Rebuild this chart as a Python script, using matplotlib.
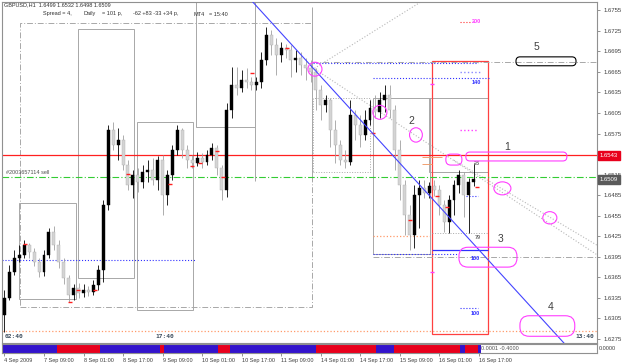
import matplotlib
matplotlib.use("Agg")
import matplotlib.pyplot as plt
import matplotlib.transforms as mtransforms
from matplotlib.patches import Rectangle, Ellipse, FancyBboxPatch
import numpy as np

plt.rcParams['font.family'] = ['Liberation Sans', 'DejaVu Sans']

# ---------------- data (GBPUSD H1, 2-hour steps) ----------------
hours = list(range(0, 192, 2))
opens = [1.6310, 1.6335, 1.6373, 1.6393, 1.6398, 1.6412, 1.6402, 1.6387, 1.6373, 1.6398,
         1.6431, 1.6412, 1.6387, 1.6364, 1.6339, 1.6350, 1.6342, 1.6347, 1.6344, 1.6354,
         1.6376, 1.6471, 1.6580, 1.6558, 1.6566, 1.6529, 1.6500, 1.6514, 1.6504, 1.6519,
         1.6522, 1.6507, 1.6536, 1.6485, 1.6514, 1.6551, 1.6580, 1.6551, 1.6536, 1.6532,
         1.6539, 1.6533, 1.6544, 1.6554, 1.6525, 1.6493, 1.6609, 1.6646, 1.6642, 1.6653,
         1.6650, 1.6646, 1.6650, 1.6682, 1.6719, 1.6704, 1.6690, 1.6700, 1.6697, 1.6682,
         1.6685, 1.6675, 1.6671, 1.6665, 1.6639, 1.6617, 1.6624, 1.6580, 1.6558, 1.6536,
         1.6533, 1.6602, 1.6587, 1.6573, 1.6595, 1.6612, 1.6606, 1.6624, 1.6631, 1.6609,
         1.6551, 1.6500, 1.6456, 1.6427, 1.6485, 1.6496, 1.6488, 1.6498, 1.6493, 1.6471,
         1.6446, 1.6478, 1.6500, 1.6514, 1.6485, 1.6504]
highs = [1.6347, 1.6383, 1.6405, 1.6412, 1.6420, 1.6415, 1.6408, 1.6393, 1.6405, 1.6437,
         1.6440, 1.6420, 1.6393, 1.6368, 1.6355, 1.6357, 1.6355, 1.6352, 1.6361, 1.6383,
         1.6478, 1.6587, 1.6592, 1.6583, 1.6573, 1.6536, 1.6522, 1.6525, 1.6529, 1.6536,
         1.6539, 1.6542, 1.6544, 1.6522, 1.6558, 1.6587, 1.6583, 1.6558, 1.6544, 1.6548,
         1.6547, 1.6551, 1.6561, 1.6558, 1.6529, 1.6620, 1.6672, 1.6672, 1.6668, 1.6671,
         1.6658, 1.6658, 1.6694, 1.6731, 1.6726, 1.6715, 1.6709, 1.6706, 1.6704, 1.6697,
         1.6694, 1.6685, 1.6682, 1.6671, 1.6646, 1.6631, 1.6627, 1.6595, 1.6566, 1.6551,
         1.6624, 1.6609, 1.6602, 1.6609, 1.6624, 1.6631, 1.6636, 1.6646, 1.6646, 1.6617,
         1.6566, 1.6507, 1.6471, 1.6500, 1.6507, 1.6507, 1.6504, 1.6507, 1.6500, 1.6478,
         1.6485, 1.6507, 1.6522, 1.6519, 1.6510, 1.6532]
lows = [1.6285, 1.6332, 1.6368, 1.6387, 1.6393, 1.6393, 1.6382, 1.6366, 1.6367, 1.6393,
        1.6405, 1.6379, 1.6355, 1.6329, 1.6332, 1.6335, 1.6336, 1.6338, 1.6339, 1.6347,
        1.6358, 1.6463, 1.6551, 1.6536, 1.6522, 1.6493, 1.6481, 1.6490, 1.6496, 1.6504,
        1.6500, 1.6493, 1.6456, 1.6471, 1.6507, 1.6544, 1.6539, 1.6525, 1.6525, 1.6528,
        1.6525, 1.6529, 1.6536, 1.6514, 1.6478, 1.6482, 1.6598, 1.6631, 1.6636, 1.6642,
        1.6639, 1.6639, 1.6642, 1.6675, 1.6690, 1.6660, 1.6679, 1.6685, 1.6658, 1.6665,
        1.6660, 1.6653, 1.6650, 1.6609, 1.6595, 1.6606, 1.6555, 1.6532, 1.6529, 1.6525,
        1.6529, 1.6566, 1.6555, 1.6566, 1.6587, 1.6598, 1.6598, 1.6606, 1.6598, 1.6522,
        1.6478, 1.6427, 1.6405, 1.6408, 1.6437, 1.6481, 1.6481, 1.6484, 1.6456, 1.6431,
        1.6430, 1.6456, 1.6488, 1.6453, 1.6430, 1.6498]
closes = [1.6335, 1.6373, 1.6393, 1.6398, 1.6412, 1.6402, 1.6387, 1.6373, 1.6398, 1.6431,
          1.6412, 1.6387, 1.6364, 1.6339, 1.6350, 1.6342, 1.6347, 1.6344, 1.6354, 1.6376,
          1.6471, 1.6580, 1.6558, 1.6566, 1.6529, 1.6500, 1.6514, 1.6504, 1.6519, 1.6522,
          1.6507, 1.6536, 1.6485, 1.6514, 1.6551, 1.6580, 1.6551, 1.6536, 1.6532, 1.6539,
          1.6533, 1.6544, 1.6554, 1.6525, 1.6493, 1.6609, 1.6646, 1.6642, 1.6653, 1.6650,
          1.6646, 1.6650, 1.6682, 1.6719, 1.6704, 1.6690, 1.6700, 1.6697, 1.6682, 1.6685,
          1.6675, 1.6671, 1.6665, 1.6639, 1.6617, 1.6624, 1.6580, 1.6558, 1.6536, 1.6533,
          1.6602, 1.6587, 1.6573, 1.6595, 1.6612, 1.6606, 1.6624, 1.6631, 1.6609, 1.6551,
          1.6500, 1.6456, 1.6427, 1.6485, 1.6496, 1.6488, 1.6498, 1.6493, 1.6471, 1.6446,
          1.6478, 1.6500, 1.6514, 1.6485, 1.6504, 1.6509]

# red indicator dashes on some bars
mark_h = [8.3, 26.5, 29.8, 36.6, 50.0, 67.0, 75.9, 79.1, 86.0, 88.5, 100.2, 114.4,
          149.2, 164.2, 175.1, 179.1, 191.3]
mark_p = [1.6414, 1.6329, 1.6347, 1.6347, 1.6516, 1.6501, 1.6528, 1.6532, 1.6550, 1.6512,
          1.6663, 1.6700, 1.6576, 1.6449, 1.6484, 1.6468, 1.6497]

time_ticks = [0, 16, 32, 48, 64, 80, 96, 112, 128, 144, 160, 176, 192]
time_labels = ["4 Sep 2009", "7 Sep 09:00", "8 Sep 01:00", "8 Sep 17:00", "9 Sep 09:00",
               "10 Sep 01:00", "10 Sep 17:00", "11 Sep 09:00", "14 Sep 01:00",
               "14 Sep 17:00", "15 Sep 09:00", "16 Sep 01:00", "16 Sep 17:00"]
price_ticks = [1.6755, 1.6725, 1.6695, 1.6665, 1.6635, 1.6605, 1.6575, 1.6545, 1.6515,
               1.6485, 1.6455, 1.6425, 1.6395, 1.6365, 1.6335, 1.6305, 1.6275]

resistance = 1.6543
order_price = 1.6512
last_price = 1.6509

# trend line anchors (hour, price)
trend_h = [99.8, 226.5]
trend_p = [1.6770, 1.62692]

# indicator strip segments (start hour, end hour, colour)
strip = [(-1, 21.3, "#3314cc"), (21.3, 38.7, "#e8001c"), (38.7, 63, "#3314cc"),
         (63, 64.6, "#e8001c"), (64.6, 86.4, "#3314cc"), (86.4, 91.3, "#e8001c"),
         (91.3, 126.1, "#3314cc"), (126.1, 150.4, "#e8001c"), (150.4, 157.7, "#3314cc"),
         (157.7, 184.4, "#e8001c"), (184.4, 186.4, "#3314cc"), (186.4, 191.7, "#e8001c"),
         (191.7, 192.9, "#3314cc")]

# ---------------- figure ----------------
W, H = 625, 363
fig = plt.figure(figsize=(W / 100, H / 100), dpi=100)
fig.patch.set_facecolor("white")


def frame(x0, y0, x1, y1):
    return [x0 / W, 1 - y1 / H, (x1 - x0) / W, (y1 - y0) / H]


ax = fig.add_axes(frame(2, 2, 597, 343))
sub = fig.add_axes(frame(2, 344, 597, 353), sharex=ax)
ax.set_xlim(-1, 239.9)
ax.set_ylim(1.62692, 1.67671)
ASP = 0.000146 * 2.47  # price per hour for round shapes

for a in (ax, sub):
    for s in a.spines.values():
        s.set_color("#909090")
        s.set_linewidth(0.8)

GRAY = "#a8a8a8"
PINK = "#ff3dff"
BLUE = "#3030ff"
DASHDOT = (0, (6, 2, 1, 2))
SMALL = 4.0

# dash-dot big frame
ax.add_patch(Rectangle((6.3, 1.6322), 118.2, 1.6736 - 1.6322, fill=False, ec=GRAY,
                       lw=0.7, ls=DASHDOT))
# grey boxes
boxes = [(5.9, 28.9, 1.6334, 1.6474, "-"), (29.8, 52.4, 1.6364, 1.6728, "-"),
         (53.6, 76.3, 1.6317, 1.6592, "-"), (77.5, 101.4, 1.6585, 1.6767, "-"),
         (124.9, 148.0, 1.6519, 1.6627, ":"), (149.2, 172.3, 1.6399, 1.6627, "-"),
         (173.1, 195.7, 1.6405, 1.6519, "-"), (171.9, 195.7, 1.6519, 1.6627, "-")]
for x0, x1, y0, y1, st in boxes:
    ax.add_patch(Rectangle((x0, y0), x1 - x0, y1 - y0, fill=False, ec=GRAY, lw=0.7, ls=st))
ax.vlines([101.4, 124.5], [1.6506, 1.6506], [1.6760, 1.6760], color=GRAY, lw=0.7)

# horizontal dash-dot grey lines
ax.hlines(1.6679, 124.5, 239.9, color=GRAY, lw=0.7, ls=DASHDOT)
ax.hlines(1.6395, 149.2, 239.9, color=GRAY, lw=0.7, ls=DASHDOT)
ax.hlines(1.6430, 173.1, 195.7, color=GRAY, lw=0.7, ls=":")

# diagonal dotted lines
ax.plot([124.5, 169.8], [1.6668, 1.6770], color="#b8b8b8", lw=0.8, ls=":")
ax.plot([125.7, 239.9], [1.6669, 1.6398], color="#b8b8b8", lw=0.8, ls=":")
ax.plot([182.0, 239.9], [1.6536, 1.6412], color="#b8b8b8", lw=0.8, ls=":")

# orange dotted
ax.hlines(1.6287, -1, 239.9, color="#ff9a6a", lw=0.9, ls=":")
ax.hlines(1.6425, 149.2, 172.3, color="#ff9a6a", lw=0.9, ls=":")
ax.hlines([1.6541, 1.6530], [169.0, 169.0], [177.1, 173.1], color="#f0a070", lw=0.7)

# blue dotted levels
ax.hlines(1.6678, 124.9, 191.7, color=BLUE, lw=0.8, ls=":")
ax.hlines(1.6656, 149.2, 196.2, color=BLUE, lw=0.8, ls=":")
ax.hlines(1.6390, -1, 77.5, color=BLUE, lw=0.8, ls=":")
ax.hlines(1.6399, 149.2, 183.2, color=BLUE, lw=0.8, ls=":")
ax.hlines(1.6405, 173.1, 195.7, color=BLUE, lw=0.9)
ax.hlines([1.6320, 1.6484], [184.4, 186.8], [191.7, 191.7], color=BLUE, lw=0.8, ls=":")
ax.hlines(1.6665, 184.4, 192.5, color="#8888ff", lw=1.0, ls=":")
ax.hlines(1.6580, 184.4, 191.7, color=PINK, lw=1.0, ls=":")
ax.hlines(1.6738, 184.4, 188.5, color="#ff3030", lw=0.8, ls=":")

# red box
ax.add_patch(Rectangle((173.1, 1.6282), 22.6, 1.6681 - 1.6282, fill=False, ec="#ff4040", lw=0.9))
ax.hlines([1.6647, 1.6373], 172.3, 173.9, color=PINK, lw=1.0)

# candles
o, hi, lo, c = map(np.array, (opens, highs, lows, closes))
up = c >= o
wick_col = np.where(up, "#000000", "#a0a0a0")
ax.vlines(hours, lo, hi, colors=wick_col, lw=0.6, zorder=3)
body = np.maximum(np.abs(c - o), 0.00006)
ax.bar(hours, body, bottom=np.minimum(o, c), width=1.2,
       color=np.where(up, "#000000", "#d4d4d4"), edgecolor=np.where(up, "#000000", "#b0b0b0"),
       lw=0.3, zorder=4)
ax.hlines(mark_p, np.array(mark_h) - 0.9, np.array(mark_h) + 0.9, color="#ff2020", lw=1.0, zorder=5)

# main horizontal lines
ax.axhline(resistance, color="#ff2020", lw=0.9, zorder=2)
ax.axhline(order_price, color="#33cc33", lw=0.8, ls=DASHDOT, zorder=2)
ax.text(0.8, order_price + 0.0002, "#2003657114 sell", fontsize=SMALL, color="#505050", va="bottom")

# trend line
ax.plot(trend_h, trend_p, color="#4444ff", lw=0.8, zorder=6)

# pink marks
for (xc, yc, w, h) in [(125.7, 1.6669, 5.7, 0.00204), (152.0, 1.6606, 5.7, 0.00204),
                       (166.6, 1.6573, 5.2, 0.0021), (201.6, 1.6495, 6.9, 0.0019),
                       (220.8, 1.6452, 5.7, 0.0018)]:
    ax.add_patch(Ellipse((xc, yc), w, h, fill=False, ec=PINK, lw=0.8, zorder=7))
for (x0, y0, x1, y1, col) in [(178.7, 1.6529, 185.2, 1.6545, PINK),
                              (186.8, 1.6535, 227.7, 1.6548, PINK),
                              (184.0, 1.6380, 207.5, 1.6409, PINK),
                              (208.7, 1.6279, 230.9, 1.6309, PINK),
                              (207.1, 1.6674, 231.4, 1.6687, "#000000")]:
    r = min(x1 - x0, (y1 - y0) / ASP) / 2.2
    ax.add_patch(FancyBboxPatch((x0, y0), x1 - x0, y1 - y0,
                                boxstyle="round,pad=0,rounding_size=%.2f" % r,
                                mutation_aspect=ASP, fill=False, ec=col, lw=0.8, zorder=7))

for txt, xx, yy in [("1", 203.4, 1.6555), ("2", 164.9, 1.6593), ("3", 201.0, 1.6421),
                    ("4", 221.3, 1.6322), ("5", 215.2, 1.6701)]:
    ax.text(xx, yy, txt, fontsize=7.5, color="#404040", ha="center", va="center")

for txt, xx, yy, col in [("200", 190.9, 1.6738, PINK), ("140", 190.9, 1.6650, BLUE),
                         ("23", 191.3, 1.6532, "#707070"), ("79", 191.7, 1.6423, "#707070"),
                         ("100", 190.5, 1.6393, BLUE), ("100", 190.5, 1.6313, BLUE)]:
    ax.text(xx, yy, txt, fontsize=SMALL, color=col, ha="center", va="center", weight="bold")

# price axis on the right (1.6545 sits under the red level label)
ax.yaxis.tick_right()
ax.set_yticks(price_ticks)
ax.set_yticklabels(["" if p == 1.6545 else "%.4f" % p for p in price_ticks])
ax.tick_params(axis="y", length=2.5, width=0.6, color="#808080", labelsize=4.3,
               labelcolor="#404040", pad=2)
ax.tick_params(axis="x", bottom=False, labelbottom=False)
ytr = mtransforms.blended_transform_factory(ax.transAxes, ax.transData)
ax.text(1.005, resistance, "1.6543", transform=ytr, fontsize=4.3, color="white", va="center",
        bbox=dict(boxstyle="square,pad=0.3", fc="#e8001c", ec="#e8001c"), zorder=10)
ax.text(1.005, last_price - 0.0001, "1.6509", transform=ytr, fontsize=4.3, color="white",
        va="center", bbox=dict(boxstyle="square,pad=0.3", fc="#5a5a5a", ec="#5a5a5a"), zorder=10)

# period labels
for txt, xx, ha in [("02:40", 0.005, "left"), ("17:40", 0.257, "left"), ("13:40", 0.995, "right")]:
    ax.text(xx, 0.012, txt, transform=ax.transAxes, fontsize=4.5, weight="bold",
            color="#405060", ha=ha, va="bottom", family="DejaVu Sans Mono")

# header
fig.text(4 / W, 1 - 5 / H, "GBPUSD,H1  1.6499 1.6532 1.6498 1.6509", fontsize=SMALL,
         color="#303030", va="center")
for txt, xp in [("Spread = 4,", 43), ("Daily", 83), ("= 101 p,", 102),
                ("-62 +83 -33 +34 p,", 133), ("MT4", 193), ("= 15:40", 209)]:
    fig.text(xp / W, 1 - 14 / H, txt, fontsize=SMALL, color="#303030", va="center")

# indicator strip
for x0, x1, col in strip:
    sub.axvspan(x0, x1, color=col, lw=0)
sub.set_ylim(0, 1)
sub.set_yticks([])
sub.text(193, 0.5, "0.0001 -0.4000", fontsize=SMALL, color="#505050", va="center")
fig.text(599 / W, 1 - 349 / H, "0.0000", fontsize=SMALL, color="#404040", va="center")
sub.set_xticks(time_ticks)
sub.set_xticklabels(time_labels)
sub.tick_params(axis="x", length=2, width=0.6, color="#808080", labelsize=SMALL,
                labelcolor="#404040", pad=1.5)
for lbl in sub.get_xticklabels():
    lbl.set_ha("left")

fig.savefig("out.png", dpi=100)
